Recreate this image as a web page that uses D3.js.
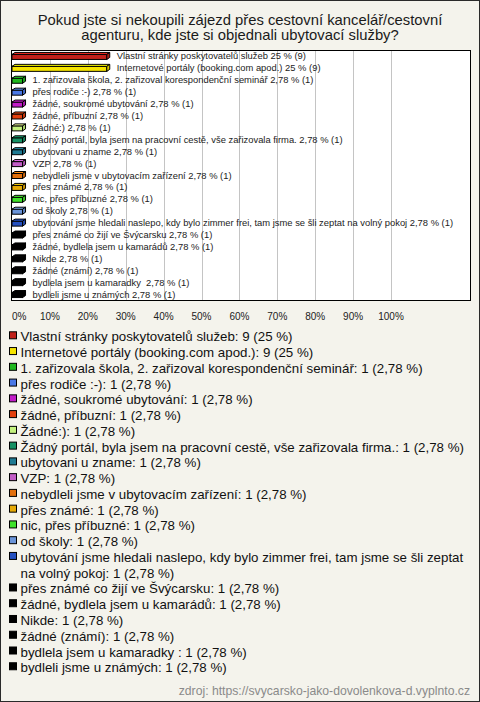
<!DOCTYPE html>
<html><head><meta charset="utf-8">
<script src="https://cdn.jsdelivr.net/npm/d3@7"></script>
<style>body{margin:0;background:#fff}svg{display:block}text{font-family:"Liberation Sans",Arial,sans-serif;white-space:pre}</style>
</head><body><svg id="c" width="480" height="702"></svg>
<script>
const titleLines = ["Pokud jste si nekoupili zájezd přes cestovní kancelář/cestovní", "agenturu, kde jste si objednali ubytovací služby?"];
const categories = ["Vlastní stránky poskytovatelů služeb","Internetové portály (booking.com apod.)","1. zařizovala škola, 2. zařizoval korespondenční seminář","přes rodiče :-)","žádné, soukromé ubytování","žádné, příbuzní","Žádné:)","Žádný portál, byla jsem na pracovní cestě, vše zařizovala firma.","ubytovani u zname","VZP","nebydleli jsme v ubytovacím zařízení","přes známé","nic, přes příbuzné","od školy","ubytování jsme hledali naslepo, kdy bylo zimmer frei, tam jsme se šli zeptat na volný pokoj","přes známé co žijí ve Švýcarsku","žádné, bydlela jsem u kamarádů","Nikde","žádné (známí)","bydlela jsem u kamaradky ","bydleli jsme u známých"];
const counts = [9,9,1,1,1,1,1,1,1,1,1,1,1,1,1,1,1,1,1,1,1];
const percents = [25,25,2.78,2.78,2.78,2.78,2.78,2.78,2.78,2.78,2.78,2.78,2.78,2.78,2.78,2.78,2.78,2.78,2.78,2.78,2.78];
const colors = ["#c0201a","#f5e400","#1fb81f","#4a78e6","#c21cc8","#e2400e","#c4f27e","#159063","#1f7a92","#c25cc6","#e2700e","#e6aa06","#40e22a","#6a94d8","#2450c0","#000","#000","#000","#000","#000","#000"];
const ticks = [0,10,20,30,40,50,60,70,80,90,100];
const source = "zdroj: https://svycarsko-jako-dovolenkova-d.vyplnto.cz";

const fmt = v => String(v).replace(".", ",");
const svg = d3.select("#c");
svg.append("rect").attr("x",0.5).attr("y",0.5).attr("width",479).attr("height",701).attr("fill","#f4f3ec").attr("stroke","#2a2a2a");

svg.selectAll("text.title").data(titleLines).join("text").attr("class","title")
  .attr("x",240).attr("y",(d,i)=>25+i*14.5).attr("text-anchor","middle")
  .attr("font-size","14.8px").attr("fill","#1a1a1a").text(d=>d);

const plot = {l:11, r:470, t:50, b:300};
const x = d3.scaleLinear().domain([0,100]).range([12,391]);
const y = d3.scaleBand().domain(d3.range(categories.length)).range([plot.t, plot.b]);

svg.append("rect").attr("x",plot.l+0.5).attr("y",plot.t+0.5).attr("width",plot.r-plot.l).attr("height",plot.b-plot.t)
  .attr("fill","#fff");
svg.selectAll("line.grid").data(ticks.slice(1)).join("line").attr("class","grid")
  .attr("x1",d=>Math.round(x(d))+0.5).attr("x2",d=>Math.round(x(d))+0.5)
  .attr("y1",plot.t).attr("y2",plot.b).attr("stroke","#c4c4c4");
svg.append("rect").attr("x",plot.l+0.5).attr("y",plot.t+0.5).attr("width",plot.r-plot.l).attr("height",plot.b-plot.t)
  .attr("fill","none").attr("stroke","#000");

const dx = 3, dy = 2;
const bars = svg.selectAll("g.bar").data(categories.map((c,i)=>({c,i,v:percents[i],n:counts[i],col:colors[i]}))).join("g").attr("class","bar");
bars.each(function(d){
  const g = d3.select(this);
  const yc = y(d.i) + y.bandwidth()/2 + 0.5;
  const x0 = x(0), x1 = x(d.v);
  const top = yc-2, bot = yc+3;
  const c = d3.color(d.col);
  g.append("rect").attr("x",x0).attr("y",top).attr("width",x1-x0).attr("height",bot-top).attr("fill",d.col).attr("stroke","#000").attr("stroke-width",1);
  g.append("path").attr("d",`M${x0},${top}L${x0+dx},${top-dy}L${x1+dx},${top-dy}L${x1},${top}Z`).attr("fill",c.brighter(0.6)).attr("stroke","#000").attr("stroke-width",1);
  g.append("path").attr("d",`M${x1},${top}L${x1+dx},${top-dy}L${x1+dx},${bot-dy}L${x1},${bot}Z`).attr("fill",c.darker(0.4)).attr("stroke","#000").attr("stroke-width",1);
  g.append("text").attr("x",x1+10).attr("y",yc+3).attr("font-size","9.4px").attr("fill","#222")
    .text(`${d.c} ${fmt(d.v)} % (${d.n})`);
});

svg.selectAll("text.tick").data(ticks).join("text").attr("class","tick")
  .attr("x",d=>d===0?12:x(d)).attr("y",319.5).attr("text-anchor",d=>d===0?"start":"middle")
  .attr("font-size","10px").attr("fill","#222").text(d=>d+"%");

// legend
let line = 0;
const lh = 15.76, base0 = 341.3, maxW = 450;
categories.forEach((c,i)=>{
  const label = `${c}: ${counts[i]} (${fmt(percents[i])} %)`;
  const words = label.split(" ");
  const lines = [];
  let cur = "";
  const tmp = svg.append("text").attr("font-size","13.3px");
  words.forEach(w=>{
    const test = cur===""?w:cur+" "+w;
    tmp.text(test);
    if (tmp.node().getComputedTextLength() > maxW && cur!=="") { lines.push(cur); cur = w; } else cur = test;
  });
  lines.push(cur);
  tmp.remove();
  const yb = base0 + line*lh;
  svg.append("rect").attr("x",9.5).attr("y",yb-9.5).attr("width",7).attr("height",7).attr("fill",colors[i]).attr("stroke","#000");
  lines.forEach((t,k)=>{
    svg.append("text").attr("x",20.5).attr("y",yb+k*lh).attr("font-size","13.3px").attr("fill","#111").text(t);
  });
  line += lines.length;
});

svg.append("text").attr("x",470).attr("y",695).attr("text-anchor","end").attr("font-size","12.2px").attr("fill","#8a8a8a").text(source);
</script></body></html>
